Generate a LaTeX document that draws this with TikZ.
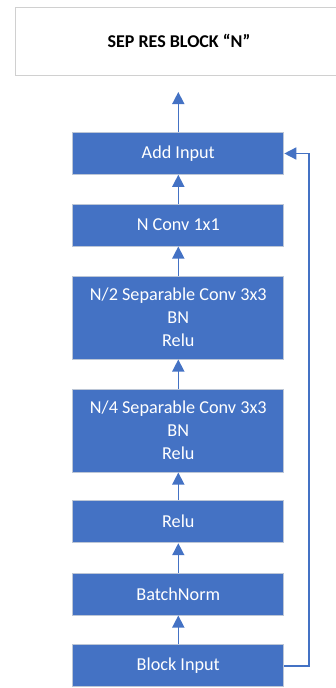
\documentclass[tikz,border=0pt]{standalone}
\usepackage{fontspec}
\setmainfont{Carlito}
\usetikzlibrary{arrows.meta}
\definecolor{boxblue}{HTML}{4472C4}
\definecolor{boxedge}{HTML}{BCC6D6}
\definecolor{titleedge}{HTML}{D0D0D0}
\begin{document}
\begin{tikzpicture}[x=1pt,y=-1pt,
  blk/.style={draw=boxedge,line width=1pt,fill=boxblue,text=white,minimum width=211pt,align=center,
    font=\fontsize{18.2}{23}\selectfont,inner sep=0pt},
  conn/.style={draw=boxblue,line width=1.5pt,-{Triangle[width=12pt,length=12pt]}},
  titlebox/.style={draw=titleedge,line width=1pt,fill=white}]
\useasboundingbox (0,0) rectangle (336,688);
\draw[titlebox] (15,7) rectangle (345,75);
\node[font=\fontsize{18}{21}\selectfont\bfseries] (title) at (179,41) {SEP RES BLOCK “N”};
\node[blk,minimum height=41.5pt] (add) at (178.3,153.5) {Add Input};
\node[blk,minimum height=42pt] (conv1) at (178.3,225) {N Conv 1x1};
\node[blk,minimum height=83pt] (sep2) at (178.3,317.5) {N/2 Separable Conv 3x3\\BN\\Relu};
\node[blk,minimum height=83pt] (sep4) at (178.3,430.5) {N/4 Separable Conv 3x3\\BN\\Relu};
\node[blk,minimum height=42pt] (relu) at (178.3,521.7) {Relu};
\node[blk,minimum height=42pt] (bn) at (178.3,594) {BatchNorm};
\node[blk,minimum height=42pt] (inp) at (178.3,665.8) {Block Input};
\coordinate (out) at (178.3,92);
\draw[conn] (add.north) -- (out);
\draw[conn] (conv1.north) -- (add.south);
\draw[conn] (sep2.north) -- (conv1.south);
\draw[conn] (sep4.north) -- (sep2.south);
\draw[conn] (relu.north) -- (sep4.south);
\draw[conn] (bn.north) -- (relu.south);
\draw[conn] (inp.north) -- (bn.south);
\draw[conn] (inp.east) -- (309,665.8) |- (add.east);
\end{tikzpicture}
\end{document}
